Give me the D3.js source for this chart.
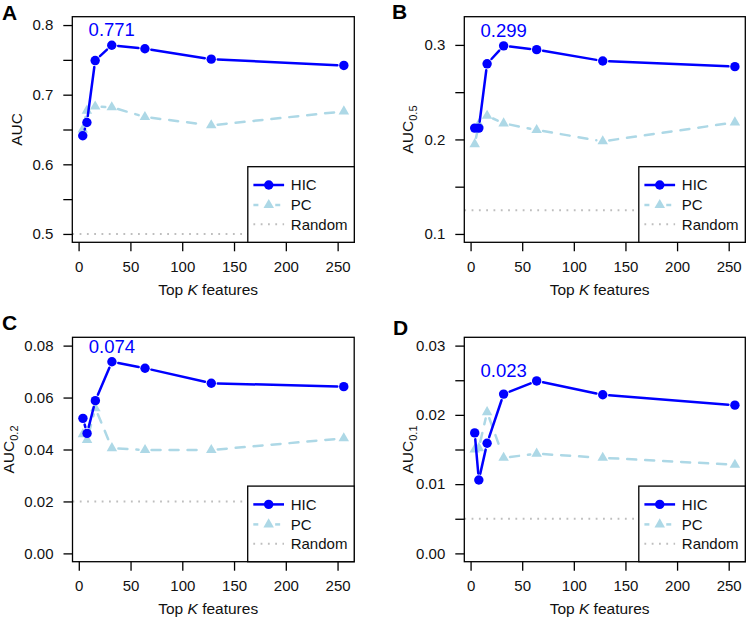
<!DOCTYPE html>
<html><head><meta charset="utf-8">
<script src="https://cdn.jsdelivr.net/npm/d3@7"></script>
<style>
body{margin:0;background:#fff}
svg{display:block;font-family:"Liberation Sans",Arial,Helvetica,sans-serif}
</style>
</head><body><svg id="c" width="747" height="618"></svg>
<script>
// ---------------- data ----------------
const kValues   = [4, 8, 16, 32, 64, 128, 256];
const hicAUC    = [0.641, 0.660, 0.749, 0.771, 0.766, 0.751, 0.742];
const pcAUC     = [0.650, 0.677, 0.683, 0.682, 0.668, 0.656, 0.676];
const hicAUC05  = [0.212, 0.212, 0.280, 0.299, 0.295, 0.283, 0.277];
const pcAUC05   = [0.195, 0.216, 0.225, 0.217, 0.210, 0.198, 0.218];
const hicAUC02  = [0.0520, 0.0462, 0.0588, 0.0738, 0.0713, 0.0655, 0.0642];
const pcAUC02   = [0.0459, 0.0437, 0.0559, 0.0405, 0.0398, 0.0398, 0.0443];
const hicAUC01  = [0.0174, 0.0106, 0.0159, 0.0230, 0.0249, 0.0229, 0.0214];
const pcAUC01   = [0.0150, 0.0152, 0.0204, 0.0138, 0.0144, 0.0138, 0.0128];
const randomAUC = [0.5, 0.125, 0.02, 0.005];
const panelLetters = ["A", "B", "C", "D"];
const yLabelMain = "AUC";
const yLabelSubscripts = ["", "0.5", "0.2", "0.1"];
const yLimits = [[0.5, 0.8], [0.1, 0.321], [0, 0.08], [0, 0.03]];
const yTickValues = [
  [0.5, 0.55, 0.6, 0.65, 0.7, 0.75, 0.8],
  [0.1, 0.15, 0.2, 0.25, 0.3],
  [0, 0.02, 0.04, 0.06, 0.08],
  [0, 0.005, 0.01, 0.015, 0.02, 0.025, 0.03]
];
const yTickLabels = [
  ["0.5", "", "0.6", "", "0.7", "", "0.8"],
  ["0.1", "", "0.2", "", "0.3"],
  ["0.00", "0.02", "0.04", "0.06", "0.08"],
  ["0.00", "", "0.01", "", "0.02", "", "0.03"]
];
const peakLabels = ["0.771", "0.299", "0.074", "0.023"];
const peakK = [32, 32, 32, 32];
const xTickValues = [0, 50, 100, 150, 200, 250];
const legendLabels = ["HIC", "PC", "Random"];

const hicSeries = [hicAUC, hicAUC05, hicAUC02, hicAUC01];
const pcSeries  = [pcAUC, pcAUC05, pcAUC02, pcAUC01];

// ---------------- layout / style ----------------
const boxes = [
  {l: 72.3, t: 16.7, r: 354.3, b: 242.3, letterX: 2, letterY: 20, ylabX: 21.7, peakOff: 9},
  {l: 464.3, t: 16.7, r: 745.3, b: 242.3, letterX: 392, letterY: 19, ylabX: 413.3, peakOff: 9},
  {l: 72.5, t: 337.3, r: 354.2, b: 561.7, letterX: 2, letterY: 330, ylabX: 13.5, peakOff: 9},
  {l: 464.3, t: 337.3, r: 745.3, b: 561.7, letterX: 393, letterY: 335, ylabX: 413.3, peakOff: 17}
];
const HIC_COL = "#0000FF", PC_COL = "#ADD8E6", RND_COL = "#BEBEBE";
const LW = 2.5, GAP = 6.5, R = 4.7, TRI = 48;

const svg = d3.select("#c");

function padDomain(lo, hi) { const p = (hi - lo) * 0.04; return [lo - p, hi + p]; }

function drawB(g, pts, color, dash) {
  // R type = "b": segments with gaps around the points
  for (let i = 0; i < pts.length - 1; i++) {
    const [x1, y1] = pts[i], [x2, y2] = pts[i + 1];
    const dx = x2 - x1, dy = y2 - y1, L = Math.hypot(dx, dy);
    if (L <= 2 * GAP) continue;
    const ux = dx / L, uy = dy / L;
    g.append("line")
      .attr("x1", x1 + ux * GAP).attr("y1", y1 + uy * GAP)
      .attr("x2", x2 - ux * GAP).attr("y2", y2 - uy * GAP)
      .attr("stroke", color).attr("stroke-width", LW)
      .attr("stroke-linecap", "round")
      .attr("stroke-dasharray", dash || null);
  }
}

boxes.forEach((bx, i) => {
  const g = svg.append("g");
  const xDom = padDomain(d3.min(kValues), d3.max(kValues));
  const x = d3.scaleLinear().domain(xDom).range([bx.l, bx.r]);
  const y = d3.scaleLinear().domain(padDomain(yLimits[i][0], yLimits[i][1])).range([bx.b, bx.t]);

  // random baseline (dotted)
  g.append("line")
    .attr("x1", bx.l).attr("x2", bx.r)
    .attr("y1", y(randomAUC[i])).attr("y2", y(randomAUC[i]))
    .attr("stroke", RND_COL).attr("stroke-width", 2)
    .attr("stroke-dasharray", "1.8,5.5");

  // PC series
  const pcPts = kValues.map((k, j) => [x(k), y(pcSeries[i][j])]);
  drawB(g, pcPts, PC_COL, "9,9");
  g.selectAll(".pc").data(pcPts).enter().append("path")
    .attr("transform", d => `translate(${d[0]},${d[1]})`)
    .attr("d", d3.symbol(d3.symbolTriangle, TRI)())
    .attr("fill", PC_COL);

  // HIC series
  const hicPts = kValues.map((k, j) => [x(k), y(hicSeries[i][j])]);
  drawB(g, hicPts, HIC_COL, null);
  g.selectAll(".hic").data(hicPts).enter().append("circle")
    .attr("cx", d => d[0]).attr("cy", d => d[1]).attr("r", R)
    .attr("fill", HIC_COL);

  // peak annotation
  const pk = kValues.indexOf(peakK[i]);
  g.append("text")
    .attr("x", x(peakK[i])).attr("y", y(hicSeries[i][pk]) - bx.peakOff)
    .attr("text-anchor", "middle").attr("font-size", 18.5).attr("fill", HIC_COL)
    .text(peakLabels[i]);

  // box
  g.append("rect").attr("x", bx.l).attr("y", bx.t)
    .attr("width", bx.r - bx.l).attr("height", bx.b - bx.t)
    .attr("fill", "none").attr("stroke", "#000").attr("stroke-width", 1.3);

  // x axis
  const xa = g.append("g").attr("transform", `translate(0,${bx.b})`)
    .call(d3.axisBottom(x).tickValues(xTickValues).tickSize(9).tickPadding(10).tickFormat(d3.format("d")));
  xa.select(".domain").remove();
  xa.selectAll("line").attr("stroke-width", 1.3);
  xa.selectAll("text").attr("font-size", 15).attr("fill", "#111")
    .attr("font-family", "'Liberation Sans',Arial,sans-serif");

  // y axis
  const ya = g.append("g").attr("transform", `translate(${bx.l},0)`)
    .call(d3.axisLeft(y).tickValues(yTickValues[i]).tickSize(9).tickPadding(10)
      .tickFormat((d, j) => yTickLabels[i][j]));
  ya.select(".domain").remove();
  ya.selectAll("line").attr("stroke-width", 1.3);
  ya.selectAll("text").attr("font-size", 15).attr("fill", "#111")
    .attr("font-family", "'Liberation Sans',Arial,sans-serif");

  // x label
  const xt = g.append("text").attr("x", (x(0) + x(250)) / 2).attr("y", bx.b + 52.5)
    .attr("text-anchor", "middle").attr("font-size", 15.5).attr("fill", "#111");
  xt.append("tspan").text("Top ");
  xt.append("tspan").attr("font-style", "italic").text("K");
  xt.append("tspan").text(" features");

  // y label
  const yt = g.append("text")
    .attr("transform", `translate(${bx.ylabX},${(bx.t + bx.b) / 2}) rotate(-90)`)
    .attr("text-anchor", "middle").attr("font-size", 15.5).attr("fill", "#111");
  yt.append("tspan").text(yLabelMain);
  if (yLabelSubscripts[i]) yt.append("tspan").attr("font-size", 11).attr("dy", 4).text(yLabelSubscripts[i]);

  // panel letter
  g.append("text").attr("x", bx.letterX).attr("y", bx.letterY)
    .attr("font-size", 21).attr("font-weight", "bold").attr("fill", "#000")
    .text(panelLetters[i]);

  // legend
  const lw = 106.5, lh = 75.6;
  const lx = bx.r - lw, ly = bx.b - lh;
  const lg = g.append("g");
  lg.append("rect").attr("x", lx).attr("y", ly).attr("width", lw).attr("height", lh)
    .attr("fill", "#fff").attr("stroke", "#000").attr("stroke-width", 1.3);
  const rowY = [18.3, 38.3, 57.6];
  const x1 = lx + 5.6, x2 = lx + 36.3, xm = (x1 + x2) / 2;
  // HIC
  lg.append("line").attr("x1", x1).attr("x2", x2).attr("y1", ly + rowY[0]).attr("y2", ly + rowY[0])
    .attr("stroke", HIC_COL).attr("stroke-width", LW);
  lg.append("circle").attr("cx", xm).attr("cy", ly + rowY[0]).attr("r", R).attr("fill", HIC_COL);
  // PC
  [[x1, xm - GAP], [xm + GAP, x2]].forEach(s => {
    lg.append("line").attr("x1", s[0]).attr("x2", s[1]).attr("y1", ly + rowY[1]).attr("y2", ly + rowY[1])
      .attr("stroke", PC_COL).attr("stroke-width", LW).attr("stroke-dasharray", "5,4");
  });
  lg.append("path").attr("transform", `translate(${xm},${ly + rowY[1]})`)
    .attr("d", d3.symbol(d3.symbolTriangle, TRI)()).attr("fill", PC_COL);
  // Random
  lg.append("line").attr("x1", x1).attr("x2", x2).attr("y1", ly + rowY[2]).attr("y2", ly + rowY[2])
    .attr("stroke", RND_COL).attr("stroke-width", 2).attr("stroke-dasharray", "1.8,5.5");
  legendLabels.forEach((t, j) => {
    lg.append("text").attr("x", lx + 43).attr("y", ly + rowY[j] + 5.3)
      .attr("font-size", 15).attr("fill", "#111").text(t);
  });
});
</script>
</body></html>
